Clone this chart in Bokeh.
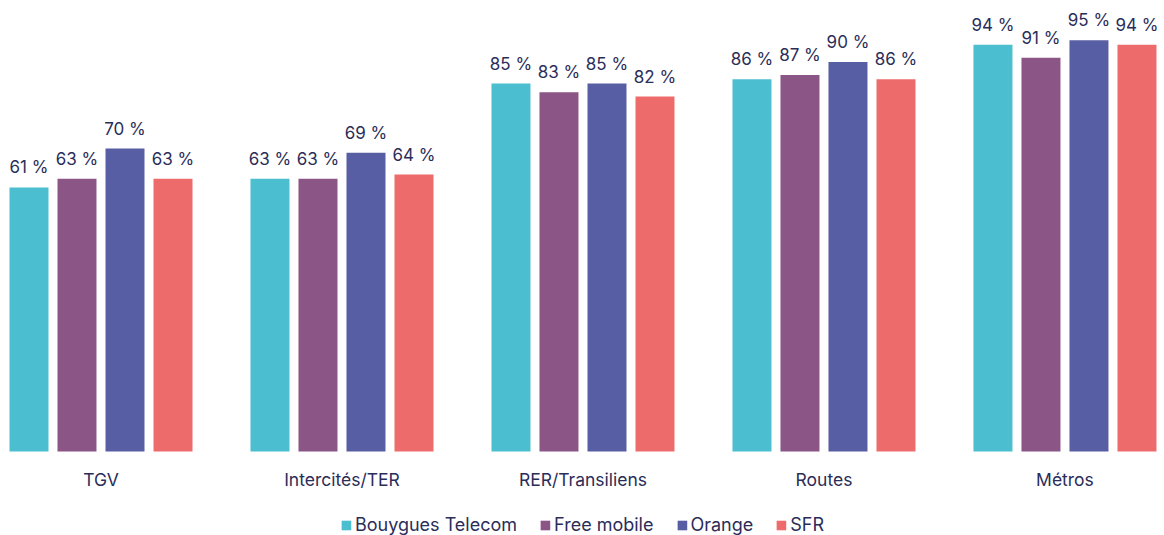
from bokeh.plotting import figure
from bokeh.models import ColumnDataSource, FixedTicker, Legend, LegendItem, Range1d, LabelSet
from bokeh.core.properties import value
from bokeh.embed import file_html
from bokeh.resources import INLINE

categories = ["TGV", "Intercités/TER", "RER/Transiliens", "Routes", "Métros"]
operators = ["Bouygues Telecom", "Free mobile", "Orange", "SFR"]
bouygues = [61, 63, 85, 86, 94]
free = [63, 63, 83, 87, 91]
orange = [70, 69, 85, 90, 95]
sfr = [63, 64, 82, 86, 94]
series = [bouygues, free, orange, sfr]
colors = ["#4bbecf", "#8b5586", "#585ea3", "#ee6b6b"]
offsets = [-0.2988, -0.0996, 0.0996, 0.2988]

FONT = "Inter"
TXT = "#2b2d59"

p = figure(frame_width=1164, frame_height=535, output_backend="svg", toolbar_location=None,
           x_range=Range1d(-0.417, 4.413), y_range=Range1d(-19.4, 104.2),
           min_border_left=0, min_border_right=0, min_border_top=0, min_border_bottom=0)
p.outline_line_color = None
p.xgrid.grid_line_color = None
p.ygrid.grid_line_color = None
p.yaxis.visible = False

items = []
for vals, col, off, name in zip(series, colors, offsets, operators):
    src = ColumnDataSource(dict(x=[i + off for i in range(len(categories))], top=vals,
                                lab=[f"{v} %" for v in vals]))
    r = p.vbar(x="x", top="top", bottom=0, width=0.1618, source=src, color=col, line_color=None)
    items.append(LegendItem(label=name, renderers=[r]))
    lbl = LabelSet(x="x", y="top", text="lab", source=src, text_align="center",
                   text_baseline="alphabetic", y_offset=14, text_font=value(FONT),
                   text_font_size="17px", text_color=TXT)
    p.add_layout(lbl)

ax = p.xaxis[0]
ax.fixed_location = 0
ax.ticker = FixedTicker(ticks=list(range(len(categories))))
ax.major_label_overrides = {i: c for i, c in enumerate(categories)}
ax.axis_line_color = None
ax.major_tick_line_color = None
ax.minor_tick_line_color = None
ax.major_tick_out = 0
ax.major_tick_in = 0
ax.major_label_standoff = 17
ax.major_label_text_font = FONT
ax.major_label_text_font_size = "17.5px"
ax.major_label_text_color = TXT

legend = Legend(items=items, orientation="horizontal", location="bottom_center",
                label_text_font=FONT, label_text_font_size="18px", label_text_color=TXT,
                glyph_width=12, glyph_height=12, label_standoff=3, spacing=22,
                padding=0, margin=0, border_line_color=None, background_fill_alpha=0)
p.add_layout(legend)

open("out.html", "w").write(file_html(p, INLINE))
